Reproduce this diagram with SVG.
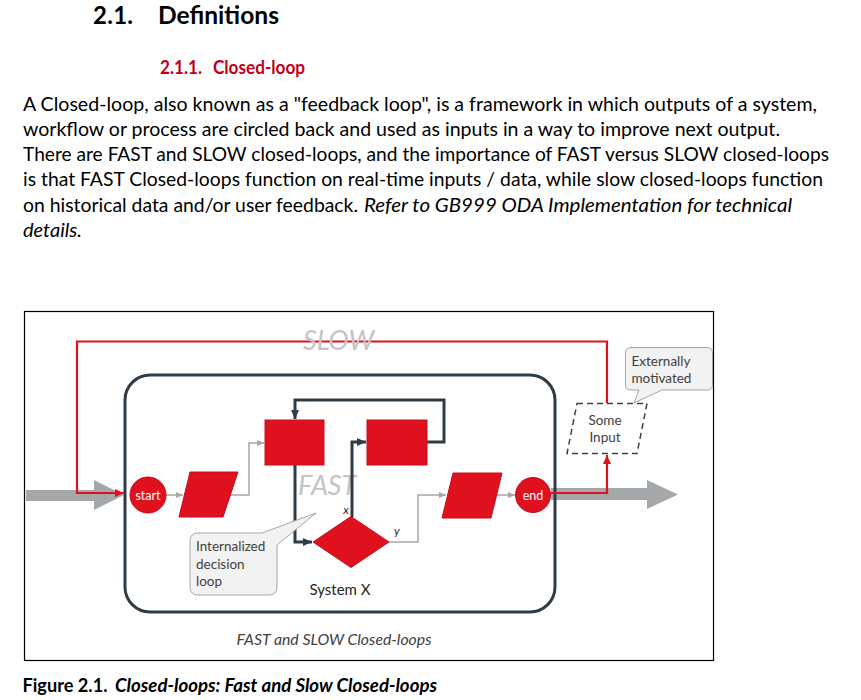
<svg xmlns="http://www.w3.org/2000/svg" width="861" height="700" viewBox="0 0 861 700">
<style>
.body{font-family:Lato,"Liberation Sans",sans-serif;font-size:18.8px;fill:#000}
.it{font-style:italic}
.h1{font-family:Lato,"Liberation Sans",sans-serif;font-size:24px;font-weight:bold;fill:#000}
.h2{font-family:Lato,"Liberation Sans",sans-serif;font-size:18px;font-weight:bold;fill:#C0001A}
.cap{font-family:Lato,"Liberation Sans",sans-serif;font-size:18px;font-weight:bold;fill:#000}
.lbl{font-family:Lato,"Liberation Sans",sans-serif;font-size:13.5px;fill:#404040}
.wt{font-family:Lato,"Liberation Sans",sans-serif;font-size:12.5px;fill:#fff;text-anchor:middle}
.big{font-family:Lato,"Liberation Sans",sans-serif;font-size:27px;font-style:italic;fill:#C4C4C4}
.red{fill:#E0111F;stroke:#C40E1A;stroke-width:1}
.g{fill:none;stroke:#A6A6A6;stroke-width:1.5}
.d{fill:none;stroke:#2F3B45;stroke-width:3}
.r{fill:none;stroke:#E0111F;stroke-width:2.2}
.bigarrow{fill:#A5A8AB}
.callout{fill:#F2F2F2;stroke:#A6A6A6;stroke-width:1}
</style>
<defs>
<marker id="aD" markerUnits="userSpaceOnUse" markerWidth="10" markerHeight="10" refX="9" refY="5" orient="auto"><path d="M0,1 L9,5 L0,9 z" fill="#2F3B45"/></marker>
<marker id="aG" markerUnits="userSpaceOnUse" markerWidth="8" markerHeight="8" refX="7" refY="4" orient="auto"><path d="M0,1 L7,4 L0,7 z" fill="#A6A6A6"/></marker>
<marker id="aR" markerUnits="userSpaceOnUse" markerWidth="10" markerHeight="10" refX="9" refY="5" orient="auto"><path d="M0,1 L9,5 L0,9 z" fill="#E0111F"/></marker>
</defs>

<g id="heading">
<text class="h1" x="93" y="24" textLength="40">2.1.</text>
<text class="h1" x="158" y="24" textLength="121" lengthAdjust="spacingAndGlyphs">Definitions</text>
<text class="h2" x="160" y="74" textLength="42" lengthAdjust="spacingAndGlyphs">2.1.1.</text>
<text class="h2" x="213" y="74" textLength="92" lengthAdjust="spacingAndGlyphs">Closed-loop</text>
</g>

<g id="paragraph">
<text class="body" x="23" y="111" textLength="794" lengthAdjust="spacingAndGlyphs">A Closed-loop, also known as a "feedback loop", is a framework in which outputs of a system,</text>
<text class="body" x="23" y="136" textLength="757" lengthAdjust="spacingAndGlyphs">workflow or process are circled back and used as inputs in a way to improve next output.</text>
<text class="body" x="23" y="161.2" textLength="806" lengthAdjust="spacingAndGlyphs">There are FAST and SLOW closed-loops, and the importance of FAST versus SLOW closed-loops</text>
<text class="body" x="23" y="186.4" textLength="800" lengthAdjust="spacingAndGlyphs">is that FAST Closed-loops function on real-time inputs / data, while slow closed-loops function</text>
<text class="body" x="23" y="211.6" textLength="335" lengthAdjust="spacingAndGlyphs">on historical data and/or user feedback.</text>
<text class="body it" x="364" y="211.6" textLength="428" lengthAdjust="spacingAndGlyphs">Refer to GB999 ODA Implementation for technical</text>
<text class="body it" x="23" y="236.8" textLength="59" lengthAdjust="spacingAndGlyphs">details.</text>
</g>

<rect id="frame" x="24.5" y="311.5" width="689" height="349" fill="#fff" stroke="#000" stroke-width="1.2"/>

<g id="big-arrows">
<polygon class="bigarrow" points="26,490 94,490 94,480 124,495 94,510 94,501 26,501"/>
<polygon class="bigarrow" points="551,488 647,488 647,480 678,494.5 647,509 647,500 551,500"/>
</g>

<g id="system-x">
<rect x="125" y="375" width="430" height="237" rx="25" fill="none" stroke="#2F3B45" stroke-width="3"/>
<text class="lbl" x="340" y="595" text-anchor="middle" style="font-size:15px;fill:#262626">System X</text>
</g>

<text id="fast-label" class="big" x="298" y="495">FAST</text>

<g id="connectors">
<path class="g" d="M166,495 H183" marker-end="url(#aG)"/>
<path class="g" d="M230,495 H249 V443 H264" marker-end="url(#aG)"/>
<path class="g" d="M389,542 H418 V495 H446" marker-end="url(#aG)"/>
<path class="g" d="M496,495 H515" marker-end="url(#aG)"/>
<path class="d" d="M427,442 H444 V400 H295 V419" marker-end="url(#aD)"/>
<path class="d" d="M295,465 V542 H312" marker-end="url(#aD)"/>
<path class="d" d="M352,517 V442 H366" marker-end="url(#aD)"/>
<path class="r" d="M551,493 H607 V455" marker-end="url(#aR)"/>
<path class="r" d="M607,403 V341.5 H77 V493 H124" marker-end="url(#aR)"/>
</g>

<text id="slow-label" class="big" x="303" y="350">SLOW</text>

<g id="start">
<circle class="red" cx="148" cy="495" r="18"/>
<text class="wt" x="148" y="499.5">start</text>
</g>
<g id="input1">
<polygon class="red" points="190,472 238,472 223,517 179,517"/>
</g>
<g id="box1">
<rect class="red" x="265" y="420" width="59" height="45"/>
</g>
<g id="box2">
<rect class="red" x="367" y="420" width="60" height="45"/>
</g>
<g id="decision">
<polygon class="red" points="313,542 351,516.5 389,542 351,567.5"/>
<text class="lbl it" x="346" y="514" text-anchor="middle" style="font-size:12px;fill:#262626">x</text>
<text class="lbl it" x="397" y="535" text-anchor="middle" style="font-size:12px;fill:#262626">y</text>
</g>
<g id="output1">
<polygon class="red" points="453,473 502,473 491,518 442,518"/>
</g>
<g id="end">
<circle class="red" cx="533" cy="495" r="17.5"/>
<text class="wt" x="533" y="499.5">end</text>
</g>

<g id="some-input">
<polygon points="577,403.5 647,403.5 637,453.5 567,453.5" fill="#fff" stroke="#404040" stroke-width="1.5" stroke-dasharray="6,4"/>
<text class="lbl" x="605" y="425" text-anchor="middle">Some</text>
<text class="lbl" x="605" y="442" text-anchor="middle">Input</text>
</g>

<g id="externally-motivated">
<path class="callout" d="M631,347.5 H707 Q712.5,347.5 712.5,353 V385 Q712.5,390 707,390 H662 L634,403 L639,390 H631 Q625.5,390 625.5,385 V353 Q625.5,347.5 631,347.5 Z"/>
<text class="lbl" x="631.5" y="366">Externally</text>
<text class="lbl" x="631.5" y="382.5">motivated</text>
</g>

<g id="internalized-decision-loop">
<path class="callout" d="M198,533 H262 L316,513 L277,545 V587 Q277,595 269,595 H198 Q190,595 190,587 V541 Q190,533 198,533 Z"/>
<text class="lbl" x="196" y="551">Internalized</text>
<text class="lbl" x="196" y="568.5">decision</text>
<text class="lbl" x="196" y="586">loop</text>
</g>

<text id="figure-title" class="lbl it" x="334" y="645" text-anchor="middle" style="font-size:15px" textLength="195" lengthAdjust="spacingAndGlyphs">FAST and SLOW Closed-loops</text>

<g id="caption">
<text class="cap" x="22.5" y="692" textLength="85" lengthAdjust="spacingAndGlyphs">Figure 2.1.</text>
<text class="cap it" x="115" y="692" textLength="322" lengthAdjust="spacingAndGlyphs">Closed-loops: Fast and Slow Closed-loops</text>
</g>
</svg>
